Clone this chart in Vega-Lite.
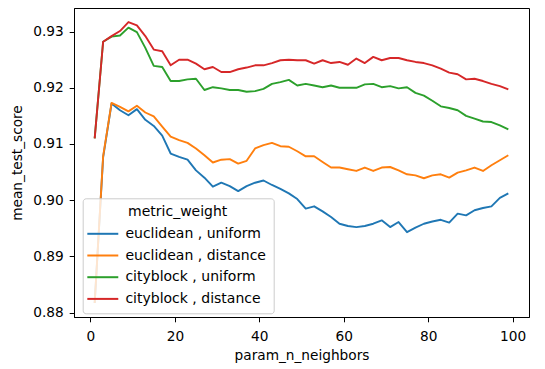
{
  "$schema": "https://vega.github.io/schema/vega-lite/v6.json",
  "width": 455,
  "height": 309,
  "autosize": {"type": "none"},
  "padding": {"left": 74, "top": 8, "right": 16, "bottom": 52},
  "background": "white",
  "config": {
    "view": {"stroke": "#000000", "strokeWidth": 1},
    "font": "DejaVu Sans",
    "axis": {
      "grid": false,
      "domainColor": "#000000",
      "domainWidth": 1,
      "tickColor": "#000000",
      "tickWidth": 1,
      "tickSize": 4.8,
      "labelFont": "DejaVu Sans",
      "labelFontSize": 13.7,
      "labelColor": "#000000",
      "titleFont": "DejaVu Sans",
      "titleFontSize": 13.7,
      "titleFontWeight": "normal",
      "titleColor": "#000000"
    },
    "legend": {
      "orient": "none",
      "legendX": 8.7,
      "legendY": 190.3,
      "padding": 7,
      "fillColor": "rgba(255,255,255,0.8)",
      "strokeColor": "#cccccc",
      "cornerRadius": 3,
      "titleFont": "DejaVu Sans",
      "titleFontSize": 14,
      "titleFontWeight": "normal",
      "titleColor": "#000000",
      "titleAnchor": "middle",
      "titleAlign": "center",
      "titlePadding": 7.5,
      "labelFont": "DejaVu Sans",
      "labelFontSize": 14,
      "labelColor": "#000000",
      "labelOffset": 15.6,
      "symbolType": "M-2.58,0H2.58",
      "symbolSize": 144,
      "symbolStrokeWidth": 2,
      "symbolOffset": 6.1,
      "rowPadding": 7.7
    }
  },
  "data": {
    "values": [
      {"param_n_neighbors": 1, "metric_weight": "euclidean , uniform", "mean_test_score": 0.8817},
      {"param_n_neighbors": 3, "metric_weight": "euclidean , uniform", "mean_test_score": 0.9076},
      {"param_n_neighbors": 5, "metric_weight": "euclidean , uniform", "mean_test_score": 0.9172},
      {"param_n_neighbors": 7, "metric_weight": "euclidean , uniform", "mean_test_score": 0.9160},
      {"param_n_neighbors": 9, "metric_weight": "euclidean , uniform", "mean_test_score": 0.9151},
      {"param_n_neighbors": 11, "metric_weight": "euclidean , uniform", "mean_test_score": 0.9162},
      {"param_n_neighbors": 13, "metric_weight": "euclidean , uniform", "mean_test_score": 0.9143},
      {"param_n_neighbors": 15, "metric_weight": "euclidean , uniform", "mean_test_score": 0.9132},
      {"param_n_neighbors": 17, "metric_weight": "euclidean , uniform", "mean_test_score": 0.9115},
      {"param_n_neighbors": 19, "metric_weight": "euclidean , uniform", "mean_test_score": 0.9083},
      {"param_n_neighbors": 21, "metric_weight": "euclidean , uniform", "mean_test_score": 0.9077},
      {"param_n_neighbors": 23, "metric_weight": "euclidean , uniform", "mean_test_score": 0.9072},
      {"param_n_neighbors": 25, "metric_weight": "euclidean , uniform", "mean_test_score": 0.9053},
      {"param_n_neighbors": 27, "metric_weight": "euclidean , uniform", "mean_test_score": 0.9040},
      {"param_n_neighbors": 29, "metric_weight": "euclidean , uniform", "mean_test_score": 0.9024},
      {"param_n_neighbors": 31, "metric_weight": "euclidean , uniform", "mean_test_score": 0.9031},
      {"param_n_neighbors": 33, "metric_weight": "euclidean , uniform", "mean_test_score": 0.9025},
      {"param_n_neighbors": 35, "metric_weight": "euclidean , uniform", "mean_test_score": 0.9016},
      {"param_n_neighbors": 37, "metric_weight": "euclidean , uniform", "mean_test_score": 0.9025},
      {"param_n_neighbors": 39, "metric_weight": "euclidean , uniform", "mean_test_score": 0.9031},
      {"param_n_neighbors": 41, "metric_weight": "euclidean , uniform", "mean_test_score": 0.9035},
      {"param_n_neighbors": 43, "metric_weight": "euclidean , uniform", "mean_test_score": 0.9027},
      {"param_n_neighbors": 45, "metric_weight": "euclidean , uniform", "mean_test_score": 0.9020},
      {"param_n_neighbors": 47, "metric_weight": "euclidean , uniform", "mean_test_score": 0.9012},
      {"param_n_neighbors": 49, "metric_weight": "euclidean , uniform", "mean_test_score": 0.9002},
      {"param_n_neighbors": 51, "metric_weight": "euclidean , uniform", "mean_test_score": 0.8985},
      {"param_n_neighbors": 53, "metric_weight": "euclidean , uniform", "mean_test_score": 0.8989},
      {"param_n_neighbors": 55, "metric_weight": "euclidean , uniform", "mean_test_score": 0.8980},
      {"param_n_neighbors": 57, "metric_weight": "euclidean , uniform", "mean_test_score": 0.8970},
      {"param_n_neighbors": 59, "metric_weight": "euclidean , uniform", "mean_test_score": 0.8958},
      {"param_n_neighbors": 61, "metric_weight": "euclidean , uniform", "mean_test_score": 0.8954},
      {"param_n_neighbors": 63, "metric_weight": "euclidean , uniform", "mean_test_score": 0.8952},
      {"param_n_neighbors": 65, "metric_weight": "euclidean , uniform", "mean_test_score": 0.8954},
      {"param_n_neighbors": 67, "metric_weight": "euclidean , uniform", "mean_test_score": 0.8958},
      {"param_n_neighbors": 69, "metric_weight": "euclidean , uniform", "mean_test_score": 0.8964},
      {"param_n_neighbors": 71, "metric_weight": "euclidean , uniform", "mean_test_score": 0.8952},
      {"param_n_neighbors": 73, "metric_weight": "euclidean , uniform", "mean_test_score": 0.8961},
      {"param_n_neighbors": 75, "metric_weight": "euclidean , uniform", "mean_test_score": 0.8943},
      {"param_n_neighbors": 77, "metric_weight": "euclidean , uniform", "mean_test_score": 0.8951},
      {"param_n_neighbors": 79, "metric_weight": "euclidean , uniform", "mean_test_score": 0.8958},
      {"param_n_neighbors": 81, "metric_weight": "euclidean , uniform", "mean_test_score": 0.8962},
      {"param_n_neighbors": 83, "metric_weight": "euclidean , uniform", "mean_test_score": 0.8965},
      {"param_n_neighbors": 85, "metric_weight": "euclidean , uniform", "mean_test_score": 0.8960},
      {"param_n_neighbors": 87, "metric_weight": "euclidean , uniform", "mean_test_score": 0.8976},
      {"param_n_neighbors": 89, "metric_weight": "euclidean , uniform", "mean_test_score": 0.8973},
      {"param_n_neighbors": 91, "metric_weight": "euclidean , uniform", "mean_test_score": 0.8982},
      {"param_n_neighbors": 93, "metric_weight": "euclidean , uniform", "mean_test_score": 0.8986},
      {"param_n_neighbors": 95, "metric_weight": "euclidean , uniform", "mean_test_score": 0.8989},
      {"param_n_neighbors": 97, "metric_weight": "euclidean , uniform", "mean_test_score": 0.9004},
      {"param_n_neighbors": 99, "metric_weight": "euclidean , uniform", "mean_test_score": 0.9012},

      {"param_n_neighbors": 1, "metric_weight": "euclidean , distance", "mean_test_score": 0.8817},
      {"param_n_neighbors": 3, "metric_weight": "euclidean , distance", "mean_test_score": 0.9078},
      {"param_n_neighbors": 5, "metric_weight": "euclidean , distance", "mean_test_score": 0.9173},
      {"param_n_neighbors": 7, "metric_weight": "euclidean , distance", "mean_test_score": 0.9166},
      {"param_n_neighbors": 9, "metric_weight": "euclidean , distance", "mean_test_score": 0.9158},
      {"param_n_neighbors": 11, "metric_weight": "euclidean , distance", "mean_test_score": 0.9168},
      {"param_n_neighbors": 13, "metric_weight": "euclidean , distance", "mean_test_score": 0.9156},
      {"param_n_neighbors": 15, "metric_weight": "euclidean , distance", "mean_test_score": 0.9149},
      {"param_n_neighbors": 17, "metric_weight": "euclidean , distance", "mean_test_score": 0.9131},
      {"param_n_neighbors": 19, "metric_weight": "euclidean , distance", "mean_test_score": 0.9113},
      {"param_n_neighbors": 21, "metric_weight": "euclidean , distance", "mean_test_score": 0.9107},
      {"param_n_neighbors": 23, "metric_weight": "euclidean , distance", "mean_test_score": 0.9102},
      {"param_n_neighbors": 25, "metric_weight": "euclidean , distance", "mean_test_score": 0.9092},
      {"param_n_neighbors": 27, "metric_weight": "euclidean , distance", "mean_test_score": 0.9080},
      {"param_n_neighbors": 29, "metric_weight": "euclidean , distance", "mean_test_score": 0.9067},
      {"param_n_neighbors": 31, "metric_weight": "euclidean , distance", "mean_test_score": 0.9072},
      {"param_n_neighbors": 33, "metric_weight": "euclidean , distance", "mean_test_score": 0.9073},
      {"param_n_neighbors": 35, "metric_weight": "euclidean , distance", "mean_test_score": 0.9065},
      {"param_n_neighbors": 37, "metric_weight": "euclidean , distance", "mean_test_score": 0.9070},
      {"param_n_neighbors": 39, "metric_weight": "euclidean , distance", "mean_test_score": 0.9092},
      {"param_n_neighbors": 41, "metric_weight": "euclidean , distance", "mean_test_score": 0.9098},
      {"param_n_neighbors": 43, "metric_weight": "euclidean , distance", "mean_test_score": 0.9102},
      {"param_n_neighbors": 45, "metric_weight": "euclidean , distance", "mean_test_score": 0.9096},
      {"param_n_neighbors": 47, "metric_weight": "euclidean , distance", "mean_test_score": 0.9095},
      {"param_n_neighbors": 49, "metric_weight": "euclidean , distance", "mean_test_score": 0.9087},
      {"param_n_neighbors": 51, "metric_weight": "euclidean , distance", "mean_test_score": 0.9078},
      {"param_n_neighbors": 53, "metric_weight": "euclidean , distance", "mean_test_score": 0.9078},
      {"param_n_neighbors": 55, "metric_weight": "euclidean , distance", "mean_test_score": 0.9068},
      {"param_n_neighbors": 57, "metric_weight": "euclidean , distance", "mean_test_score": 0.9058},
      {"param_n_neighbors": 59, "metric_weight": "euclidean , distance", "mean_test_score": 0.9058},
      {"param_n_neighbors": 61, "metric_weight": "euclidean , distance", "mean_test_score": 0.9055},
      {"param_n_neighbors": 63, "metric_weight": "euclidean , distance", "mean_test_score": 0.9052},
      {"param_n_neighbors": 65, "metric_weight": "euclidean , distance", "mean_test_score": 0.9058},
      {"param_n_neighbors": 67, "metric_weight": "euclidean , distance", "mean_test_score": 0.9052},
      {"param_n_neighbors": 69, "metric_weight": "euclidean , distance", "mean_test_score": 0.9058},
      {"param_n_neighbors": 71, "metric_weight": "euclidean , distance", "mean_test_score": 0.9059},
      {"param_n_neighbors": 73, "metric_weight": "euclidean , distance", "mean_test_score": 0.9053},
      {"param_n_neighbors": 75, "metric_weight": "euclidean , distance", "mean_test_score": 0.9046},
      {"param_n_neighbors": 77, "metric_weight": "euclidean , distance", "mean_test_score": 0.9044},
      {"param_n_neighbors": 79, "metric_weight": "euclidean , distance", "mean_test_score": 0.9039},
      {"param_n_neighbors": 81, "metric_weight": "euclidean , distance", "mean_test_score": 0.9044},
      {"param_n_neighbors": 83, "metric_weight": "euclidean , distance", "mean_test_score": 0.9046},
      {"param_n_neighbors": 85, "metric_weight": "euclidean , distance", "mean_test_score": 0.9040},
      {"param_n_neighbors": 87, "metric_weight": "euclidean , distance", "mean_test_score": 0.9049},
      {"param_n_neighbors": 89, "metric_weight": "euclidean , distance", "mean_test_score": 0.9053},
      {"param_n_neighbors": 91, "metric_weight": "euclidean , distance", "mean_test_score": 0.9058},
      {"param_n_neighbors": 93, "metric_weight": "euclidean , distance", "mean_test_score": 0.9052},
      {"param_n_neighbors": 95, "metric_weight": "euclidean , distance", "mean_test_score": 0.9062},
      {"param_n_neighbors": 97, "metric_weight": "euclidean , distance", "mean_test_score": 0.9071},
      {"param_n_neighbors": 99, "metric_weight": "euclidean , distance", "mean_test_score": 0.9080},

      {"param_n_neighbors": 1, "metric_weight": "cityblock , uniform", "mean_test_score": 0.9110},
      {"param_n_neighbors": 3, "metric_weight": "cityblock , uniform", "mean_test_score": 0.9282},
      {"param_n_neighbors": 5, "metric_weight": "cityblock , uniform", "mean_test_score": 0.9291},
      {"param_n_neighbors": 7, "metric_weight": "cityblock , uniform", "mean_test_score": 0.9293},
      {"param_n_neighbors": 9, "metric_weight": "cityblock , uniform", "mean_test_score": 0.9307},
      {"param_n_neighbors": 11, "metric_weight": "cityblock , uniform", "mean_test_score": 0.9299},
      {"param_n_neighbors": 13, "metric_weight": "cityblock , uniform", "mean_test_score": 0.9271},
      {"param_n_neighbors": 15, "metric_weight": "cityblock , uniform", "mean_test_score": 0.9239},
      {"param_n_neighbors": 17, "metric_weight": "cityblock , uniform", "mean_test_score": 0.9237},
      {"param_n_neighbors": 19, "metric_weight": "cityblock , uniform", "mean_test_score": 0.9212},
      {"param_n_neighbors": 21, "metric_weight": "cityblock , uniform", "mean_test_score": 0.9212},
      {"param_n_neighbors": 23, "metric_weight": "cityblock , uniform", "mean_test_score": 0.9215},
      {"param_n_neighbors": 25, "metric_weight": "cityblock , uniform", "mean_test_score": 0.9216},
      {"param_n_neighbors": 27, "metric_weight": "cityblock , uniform", "mean_test_score": 0.9196},
      {"param_n_neighbors": 29, "metric_weight": "cityblock , uniform", "mean_test_score": 0.9201},
      {"param_n_neighbors": 31, "metric_weight": "cityblock , uniform", "mean_test_score": 0.9199},
      {"param_n_neighbors": 33, "metric_weight": "cityblock , uniform", "mean_test_score": 0.9196},
      {"param_n_neighbors": 35, "metric_weight": "cityblock , uniform", "mean_test_score": 0.9196},
      {"param_n_neighbors": 37, "metric_weight": "cityblock , uniform", "mean_test_score": 0.9193},
      {"param_n_neighbors": 39, "metric_weight": "cityblock , uniform", "mean_test_score": 0.9194},
      {"param_n_neighbors": 41, "metric_weight": "cityblock , uniform", "mean_test_score": 0.9198},
      {"param_n_neighbors": 43, "metric_weight": "cityblock , uniform", "mean_test_score": 0.9207},
      {"param_n_neighbors": 45, "metric_weight": "cityblock , uniform", "mean_test_score": 0.9210},
      {"param_n_neighbors": 47, "metric_weight": "cityblock , uniform", "mean_test_score": 0.9214},
      {"param_n_neighbors": 49, "metric_weight": "cityblock , uniform", "mean_test_score": 0.9204},
      {"param_n_neighbors": 51, "metric_weight": "cityblock , uniform", "mean_test_score": 0.9207},
      {"param_n_neighbors": 53, "metric_weight": "cityblock , uniform", "mean_test_score": 0.9204},
      {"param_n_neighbors": 55, "metric_weight": "cityblock , uniform", "mean_test_score": 0.9201},
      {"param_n_neighbors": 57, "metric_weight": "cityblock , uniform", "mean_test_score": 0.9204},
      {"param_n_neighbors": 59, "metric_weight": "cityblock , uniform", "mean_test_score": 0.9200},
      {"param_n_neighbors": 61, "metric_weight": "cityblock , uniform", "mean_test_score": 0.9200},
      {"param_n_neighbors": 63, "metric_weight": "cityblock , uniform", "mean_test_score": 0.9200},
      {"param_n_neighbors": 65, "metric_weight": "cityblock , uniform", "mean_test_score": 0.9206},
      {"param_n_neighbors": 67, "metric_weight": "cityblock , uniform", "mean_test_score": 0.9207},
      {"param_n_neighbors": 69, "metric_weight": "cityblock , uniform", "mean_test_score": 0.9201},
      {"param_n_neighbors": 71, "metric_weight": "cityblock , uniform", "mean_test_score": 0.9203},
      {"param_n_neighbors": 73, "metric_weight": "cityblock , uniform", "mean_test_score": 0.9199},
      {"param_n_neighbors": 75, "metric_weight": "cityblock , uniform", "mean_test_score": 0.9201},
      {"param_n_neighbors": 77, "metric_weight": "cityblock , uniform", "mean_test_score": 0.9191},
      {"param_n_neighbors": 79, "metric_weight": "cityblock , uniform", "mean_test_score": 0.9186},
      {"param_n_neighbors": 81, "metric_weight": "cityblock , uniform", "mean_test_score": 0.9177},
      {"param_n_neighbors": 83, "metric_weight": "cityblock , uniform", "mean_test_score": 0.9167},
      {"param_n_neighbors": 85, "metric_weight": "cityblock , uniform", "mean_test_score": 0.9164},
      {"param_n_neighbors": 87, "metric_weight": "cityblock , uniform", "mean_test_score": 0.9160},
      {"param_n_neighbors": 89, "metric_weight": "cityblock , uniform", "mean_test_score": 0.9150},
      {"param_n_neighbors": 91, "metric_weight": "cityblock , uniform", "mean_test_score": 0.9145},
      {"param_n_neighbors": 93, "metric_weight": "cityblock , uniform", "mean_test_score": 0.9140},
      {"param_n_neighbors": 95, "metric_weight": "cityblock , uniform", "mean_test_score": 0.9139},
      {"param_n_neighbors": 97, "metric_weight": "cityblock , uniform", "mean_test_score": 0.9133},
      {"param_n_neighbors": 99, "metric_weight": "cityblock , uniform", "mean_test_score": 0.9126},

      {"param_n_neighbors": 1, "metric_weight": "cityblock , distance", "mean_test_score": 0.9110},
      {"param_n_neighbors": 3, "metric_weight": "cityblock , distance", "mean_test_score": 0.9282},
      {"param_n_neighbors": 5, "metric_weight": "cityblock , distance", "mean_test_score": 0.9292},
      {"param_n_neighbors": 7, "metric_weight": "cityblock , distance", "mean_test_score": 0.9301},
      {"param_n_neighbors": 9, "metric_weight": "cityblock , distance", "mean_test_score": 0.9317},
      {"param_n_neighbors": 11, "metric_weight": "cityblock , distance", "mean_test_score": 0.9311},
      {"param_n_neighbors": 13, "metric_weight": "cityblock , distance", "mean_test_score": 0.9292},
      {"param_n_neighbors": 15, "metric_weight": "cityblock , distance", "mean_test_score": 0.9268},
      {"param_n_neighbors": 17, "metric_weight": "cityblock , distance", "mean_test_score": 0.9265},
      {"param_n_neighbors": 19, "metric_weight": "cityblock , distance", "mean_test_score": 0.9240},
      {"param_n_neighbors": 21, "metric_weight": "cityblock , distance", "mean_test_score": 0.9250},
      {"param_n_neighbors": 23, "metric_weight": "cityblock , distance", "mean_test_score": 0.9250},
      {"param_n_neighbors": 25, "metric_weight": "cityblock , distance", "mean_test_score": 0.9243},
      {"param_n_neighbors": 27, "metric_weight": "cityblock , distance", "mean_test_score": 0.9233},
      {"param_n_neighbors": 29, "metric_weight": "cityblock , distance", "mean_test_score": 0.9237},
      {"param_n_neighbors": 31, "metric_weight": "cityblock , distance", "mean_test_score": 0.9228},
      {"param_n_neighbors": 33, "metric_weight": "cityblock , distance", "mean_test_score": 0.9228},
      {"param_n_neighbors": 35, "metric_weight": "cityblock , distance", "mean_test_score": 0.9233},
      {"param_n_neighbors": 37, "metric_weight": "cityblock , distance", "mean_test_score": 0.9236},
      {"param_n_neighbors": 39, "metric_weight": "cityblock , distance", "mean_test_score": 0.9240},
      {"param_n_neighbors": 41, "metric_weight": "cityblock , distance", "mean_test_score": 0.9240},
      {"param_n_neighbors": 43, "metric_weight": "cityblock , distance", "mean_test_score": 0.9244},
      {"param_n_neighbors": 45, "metric_weight": "cityblock , distance", "mean_test_score": 0.9249},
      {"param_n_neighbors": 47, "metric_weight": "cityblock , distance", "mean_test_score": 0.9250},
      {"param_n_neighbors": 49, "metric_weight": "cityblock , distance", "mean_test_score": 0.9249},
      {"param_n_neighbors": 51, "metric_weight": "cityblock , distance", "mean_test_score": 0.9249},
      {"param_n_neighbors": 53, "metric_weight": "cityblock , distance", "mean_test_score": 0.9243},
      {"param_n_neighbors": 55, "metric_weight": "cityblock , distance", "mean_test_score": 0.9249},
      {"param_n_neighbors": 57, "metric_weight": "cityblock , distance", "mean_test_score": 0.9244},
      {"param_n_neighbors": 59, "metric_weight": "cityblock , distance", "mean_test_score": 0.9246},
      {"param_n_neighbors": 61, "metric_weight": "cityblock , distance", "mean_test_score": 0.9241},
      {"param_n_neighbors": 63, "metric_weight": "cityblock , distance", "mean_test_score": 0.9252},
      {"param_n_neighbors": 65, "metric_weight": "cityblock , distance", "mean_test_score": 0.9244},
      {"param_n_neighbors": 67, "metric_weight": "cityblock , distance", "mean_test_score": 0.9255},
      {"param_n_neighbors": 69, "metric_weight": "cityblock , distance", "mean_test_score": 0.9249},
      {"param_n_neighbors": 71, "metric_weight": "cityblock , distance", "mean_test_score": 0.9253},
      {"param_n_neighbors": 73, "metric_weight": "cityblock , distance", "mean_test_score": 0.9253},
      {"param_n_neighbors": 75, "metric_weight": "cityblock , distance", "mean_test_score": 0.9249},
      {"param_n_neighbors": 77, "metric_weight": "cityblock , distance", "mean_test_score": 0.9246},
      {"param_n_neighbors": 79, "metric_weight": "cityblock , distance", "mean_test_score": 0.9244},
      {"param_n_neighbors": 81, "metric_weight": "cityblock , distance", "mean_test_score": 0.9240},
      {"param_n_neighbors": 83, "metric_weight": "cityblock , distance", "mean_test_score": 0.9234},
      {"param_n_neighbors": 85, "metric_weight": "cityblock , distance", "mean_test_score": 0.9227},
      {"param_n_neighbors": 87, "metric_weight": "cityblock , distance", "mean_test_score": 0.9224},
      {"param_n_neighbors": 89, "metric_weight": "cityblock , distance", "mean_test_score": 0.9215},
      {"param_n_neighbors": 91, "metric_weight": "cityblock , distance", "mean_test_score": 0.9216},
      {"param_n_neighbors": 93, "metric_weight": "cityblock , distance", "mean_test_score": 0.9212},
      {"param_n_neighbors": 95, "metric_weight": "cityblock , distance", "mean_test_score": 0.9207},
      {"param_n_neighbors": 97, "metric_weight": "cityblock , distance", "mean_test_score": 0.9203},
      {"param_n_neighbors": 99, "metric_weight": "cityblock , distance", "mean_test_score": 0.9197}
    ]
  },
  "mark": {"type": "line", "strokeWidth": 1.9, "strokeJoin": "round"},
  "encoding": {
    "x": {
      "field": "param_n_neighbors",
      "type": "quantitative",
      "scale": {"domain": [-3.9, 103.9], "nice": false, "zero": false},
      "axis": {
        "title": "param_n_neighbors",
        "values": [0, 20, 40, 60, 80, 100],
        "labelFlush": false,
        "labelPadding": 8,
        "titlePadding": 5
      }
    },
    "y": {
      "field": "mean_test_score",
      "type": "quantitative",
      "scale": {"domain": [0.8792, 0.9342], "nice": false, "zero": false},
      "axis": {
        "title": "mean_test_score",
        "values": [0.88, 0.89, 0.9, 0.91, 0.92, 0.93],
        "format": ".2f",
        "labelFlush": false,
        "labelPadding": 6,
        "titlePadding": 8
      }
    },
    "color": {
      "field": "metric_weight",
      "type": "nominal",
      "sort": null,
      "scale": {
        "domain": ["euclidean , uniform", "euclidean , distance", "cityblock , uniform", "cityblock , distance"],
        "range": ["#1f77b4", "#ff7f0e", "#2ca02c", "#d62728"]
      },
      "legend": {"title": "metric_weight"}
    }
  }
}
